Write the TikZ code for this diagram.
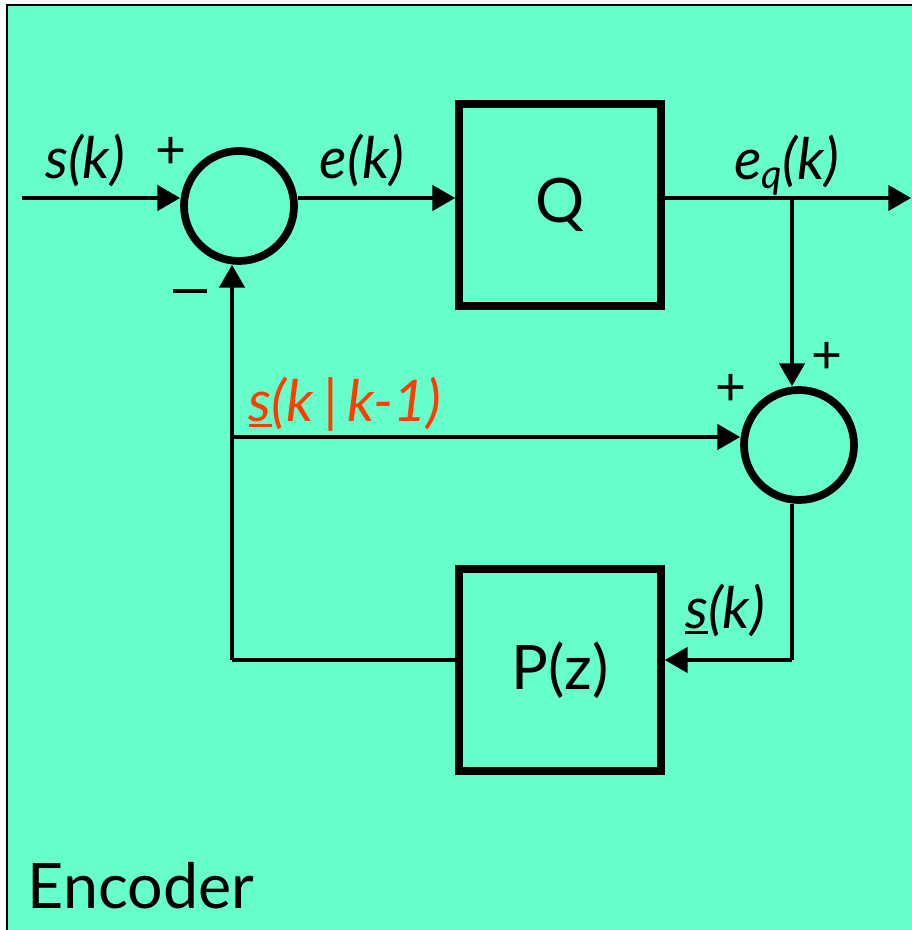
\documentclass[tikz,border=0pt]{standalone}
\usepackage{fontspec}
\setmainfont{Lato}
\usepackage{xcolor}
\usetikzlibrary{arrows.meta}

\definecolor{encbg}{HTML}{66FFCC}
\definecolor{predred}{HTML}{FF3D00}

% underline for the estimated signal
\newcommand{\undersig}[1]{\setbox0\hbox{#1}\rlap{\rule[-4.5pt]{\wd0}{2.6pt}}\box0}

\begin{document}
\begin{tikzpicture}[
		x=0.75pt, y=-0.75pt,
		sumnode/.style={
			circle,
			draw=black,
			line width=5.8pt,
			minimum size=82.5pt,
			inner sep=0pt
		},
		blockbox/.style={
			rectangle,
			draw=black,
			line width=5.8pt,
			minimum width=151.5pt,
			minimum height=151.5pt,
			inner sep=0pt,
			font=\fontsize{46}{48}\selectfont
		},
		siglabel/.style={font=\fontsize{43}{45}\selectfont\itshape},
		signlabel/.style={font=\fontsize{40}{42}\selectfont},
		arrow/.style={
			-{Triangle[length=17pt,width=19pt]},
			line width=2.3pt
		},
		link/.style={line width=2.3pt}
		]
		
		\useasboundingbox (0,0) rectangle (911,930);
		\draw[fill=encbg, line width=1.5pt] (7,5) rectangle (940,960);
		
		\node[sumnode] (sum1) at (239,206) {};
		\node[sumnode] (sum2) at (799,445) {};
		\node[blockbox] (quant) at (560,205) {Q};
		\node[blockbox] (pred) at (560,670) {P(z)};
		
		\coordinate (in) at (22,198);
		\coordinate (out) at (911,198);
		\coordinate (eqsplit) at (792,198);
		\coordinate (fbsplit) at (232,437);
		\coordinate (sumout) at (792,660);
		\coordinate (predout) at (232,660);
		
		\draw[arrow] (in) -- (in -| sum1.west);
		\draw[arrow] (sum1.east |- in) -- (quant.west |- in);
		\draw[link] (quant.east |- in) -- (eqsplit);
		\draw[arrow] (eqsplit) -- (out);
		\draw[arrow] (eqsplit) -- (eqsplit |- sum2.north);
		\draw[arrow] (fbsplit) -- (fbsplit -| sum2.west);
		\draw[link] (sum2.south -| sumout) -- (sumout);
		\draw[arrow] (sumout) -- (pred.east |- sumout);
		\draw[link] (pred.west |- predout) -- (predout);
		\draw[arrow] (predout) -- (predout |- sum1.south);
		
		\node[siglabel] (lblin) at (85,160) {s(k)};
		\node[signlabel] (plus1) at (171,153) {+};
		\node[inner sep=0pt] (minus1) at (190,291) {\rule{26pt}{3.2pt}};
		\node[siglabel] (lblerr) at (362,160) {e(k)};
		\node[siglabel] (lbleq) at (787,165) {e\textsubscript{q}(k)};
		\node[signlabel] (plus2) at (827,358) {+};
		\node[signlabel] (plus3) at (731,390) {+};
		\node[siglabel, text=predred] (lblpred) at (345,404) {\undersig{s}(k\,|\,k-1)};
		\node[siglabel] (lblrec) at (725,610) {\undersig{s}(k)};
		\node[font=\fontsize{47}{50}\selectfont] (lblenc) at (141,886) {Encoder};
		
	\end{tikzpicture}
\end{document}
